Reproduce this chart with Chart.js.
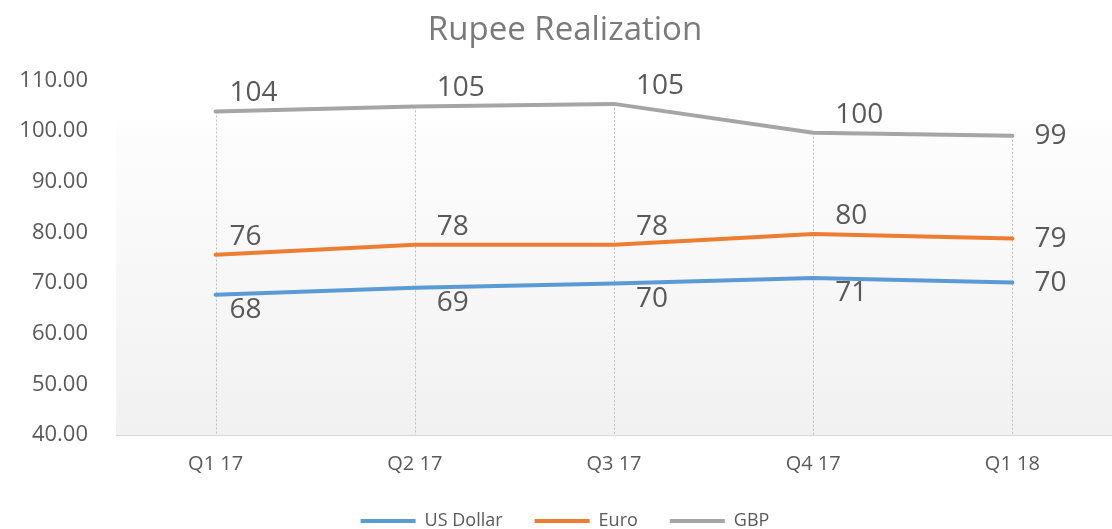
<!DOCTYPE html>
<html>
<head>
<meta charset="utf-8">
<script src="https://cdn.jsdelivr.net/npm/chart.js@4.4.1/dist/chart.umd.min.js"></script>
<style>
  html, body { margin: 0; padding: 0; background: #fff; }
  #wrap { width: 1112px; height: 529px; }
</style>
</head>
<body>
<div id="wrap"><canvas id="myChart"></canvas></div>
<script>
let quarters = ["Q1 17", "Q2 17", "Q3 17", "Q4 17", "Q1 18"];
let usDollar = [67.7, 69.1, 69.9, 71.0, 70.1];
let euro = [75.6, 77.6, 77.6, 79.7, 78.8];
let gbp = [103.9, 104.9, 105.4, 99.7, 99.1];
let yTicks = [40, 50, 60, 70, 80, 90, 100, 110];

let textGrey = "#595959";

// dashed drop lines from the top point of each category down to the axis
let dropLines = {
    id: "dropLines",
    beforeDatasetsDraw(chart) {
        let ctx = chart.ctx;
        let area = chart.chartArea;
        let metas = chart.data.datasets.map((d, i) => chart.getDatasetMeta(i));
        ctx.save();
        ctx.strokeStyle = "#bdbdbd";
        ctx.lineWidth = 1;
        ctx.setLineDash([2, 2]);
        quarters.forEach((q, idx) => {
            let top = Math.min(...metas.map(m => m.data[idx].y));
            let x = Math.round(metas[0].data[idx].x) + 0.5;
            ctx.beginPath();
            ctx.moveTo(x, top);
            ctx.lineTo(x, area.bottom);
            ctx.stroke();
        });
        ctx.restore();
    }
};

let plotShade = {
    id: "plotShade",
    beforeDraw(chart) {
        let ctx = chart.ctx;
        let a = chart.chartArea;
        let g = ctx.createLinearGradient(0, a.top, 0, a.bottom);
        g.addColorStop(0, "#ffffff");
        g.addColorStop(1, "#f1f1f1");
        ctx.save();
        ctx.fillStyle = g;
        ctx.fillRect(a.left, a.top + 40, a.right - a.left, a.bottom - a.top - 40);
        ctx.restore();
    }
};

let valueLabels = {
    id: "valueLabels",
    afterDatasetsDraw(chart) {
        let ctx = chart.ctx;
        ctx.save();
        ctx.font = "28px 'Open Sans'";
        ctx.fillStyle = textGrey;
        ctx.textAlign = "left";
        ctx.textBaseline = "middle";
        chart.data.datasets.forEach((ds, i) => {
            let meta = chart.getDatasetMeta(i);
            meta.data.forEach((pt, idx) => {
                let last = idx === meta.data.length - 1;
                let dy = 0;
                if (!last) dy = ds.labelSide === "below" ? 15 : -18;
                let dx = idx === 0 ? 14 : 22;
                ctx.fillText(String(Math.round(ds.data[idx])), pt.x + dx, pt.y + dy);
            });
        });
        ctx.restore();
    }
};

function makeSet(label, data, color, side) {
    return {
        label: label,
        data: data,
        borderColor: color,
        backgroundColor: color,
        borderWidth: 4,
        borderCapStyle: "round",
        pointRadius: 0,
        tension: 0,
        labelSide: side
    };
}

let chart = new Chart(document.getElementById("myChart"), {
    type: "line",
    data: {
        labels: quarters,
        datasets: [
            makeSet("US Dollar", usDollar, "#5b9bd5", "below"),
            makeSet("Euro", euro, "#ed7d31", "above"),
            makeSet("GBP", gbp, "#a5a5a5", "above")
        ]
    },
    options: {
        responsive: true,
        maintainAspectRatio: false,
        animation: false,
        layout: { padding: { left: 18, right: 0, top: 11, bottom: -11 } },
        plugins: {
            title: {
                display: true,
                text: "Rupee Realization",
                color: "#7a7a7a",
                font: { family: "'Open Sans'", size: 33, weight: "normal" },
                padding: { top: 0, bottom: 30 }
            },
            legend: {
                position: "bottom",
                labels: {
                    usePointStyle: true,
                    pointStyle: "line",
                    pointStyleWidth: 55,
                    color: textGrey,
                    font: { family: "'Open Sans'", size: 18 },
                    padding: 32
                }
            },
            tooltip: { enabled: false }
        },
        scales: {
            x: {
                offset: true,
                grid: { display: false, drawTicks: false },
                border: { display: true, color: "#d9d9d9", width: 1 },
                ticks: {
                    color: textGrey,
                    font: { family: "'Open Sans'", size: 20 },
                    padding: 17
                },
                afterFit: (axis) => { axis.height = axis.height - 13; }
            },
            y: {
                min: yTicks[0],
                max: yTicks[yTicks.length - 1],
                afterBuildTicks: (axis) => { axis.ticks = yTicks.map(v => ({ value: v })); },
                grid: { display: false, drawTicks: false },
                border: { display: false },
                ticks: {
                    color: textGrey,
                    font: { family: "'Open Sans'", size: 22 },
                    padding: 28,
                    callback: (v) => Number(v).toFixed(2)
                },
                afterFit: (axis) => { axis.width = 98; }
            }
        }
    },
    plugins: [plotShade, dropLines, valueLabels]
});
</script>
</body>
</html>
